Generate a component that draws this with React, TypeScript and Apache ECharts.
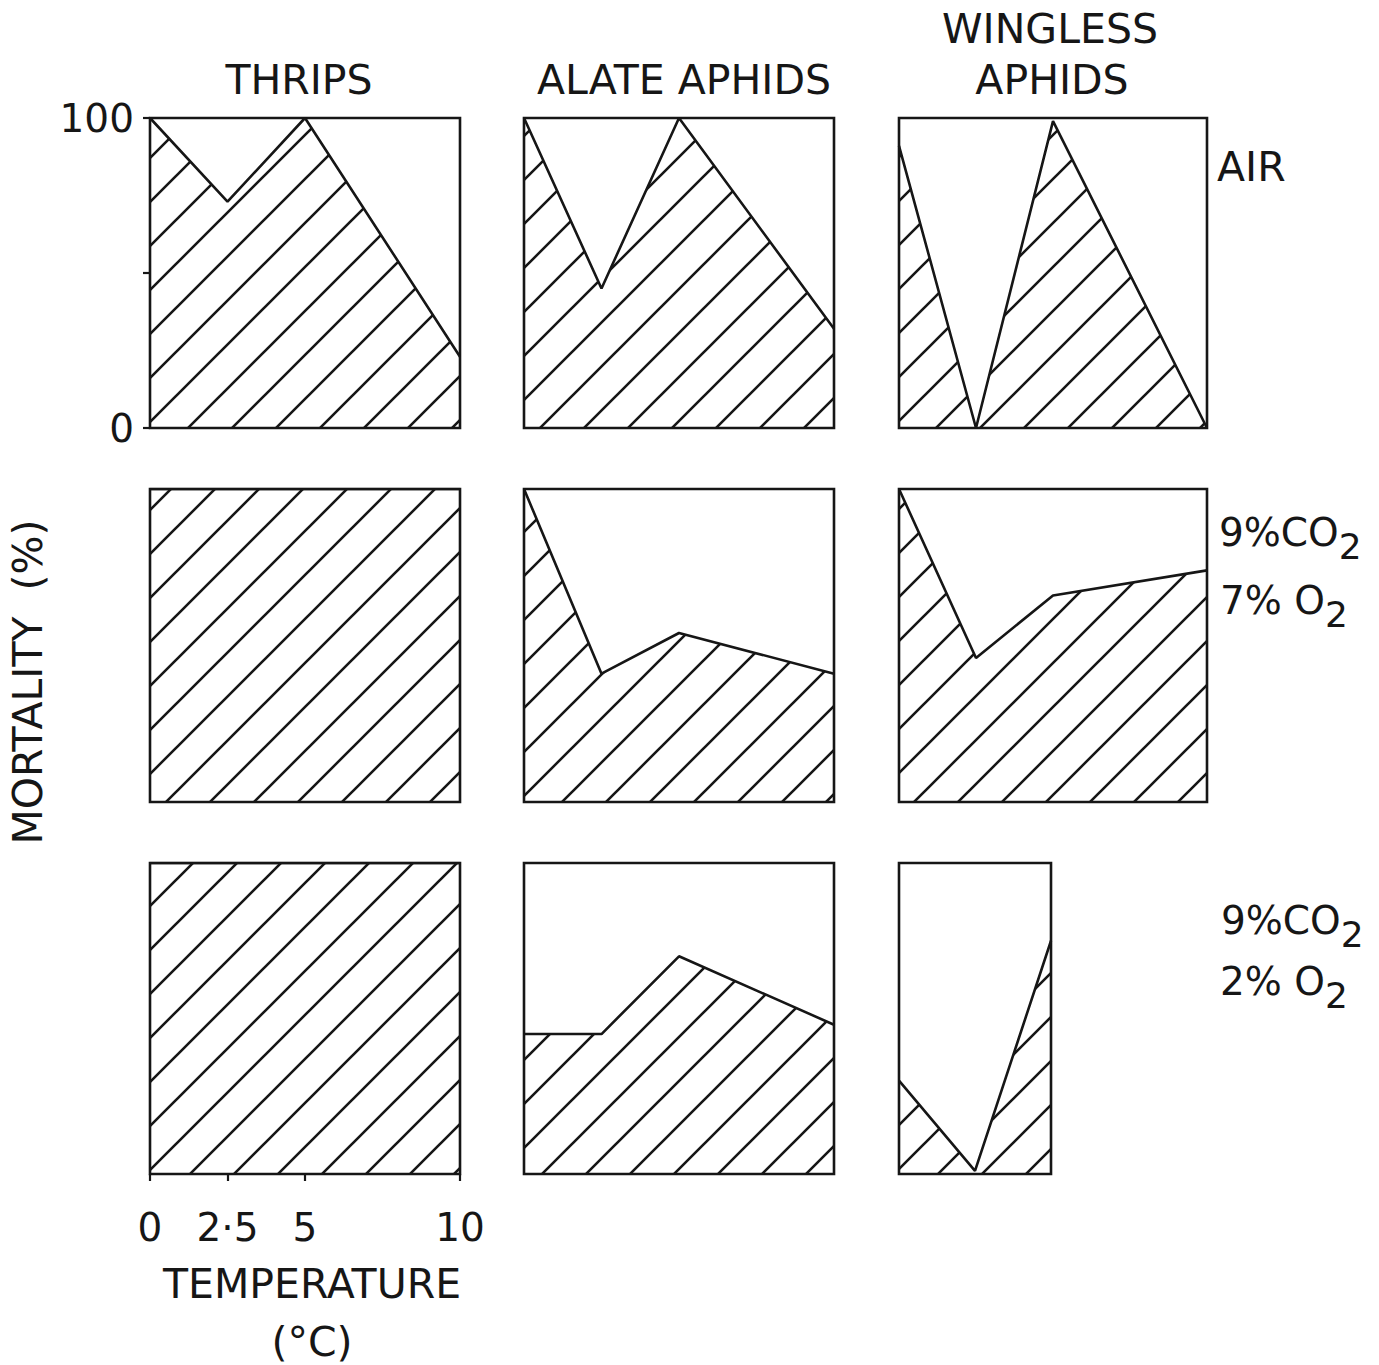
import React, { useEffect, useRef } from 'react';
import * as echarts from 'echarts';

// ---- data (mortality %) ----
const temperatures = [0, 2.5, 5, 10];
const temperaturesShort = [0, 2.5, 5];

const thripsAir = [100, 73, 100, 23];
const alateAir = [100, 45, 100, 32];
const winglessAir = [91, 0, 99, 0];

const thripsCO2O2seven = [100, 100, 100, 100];
const alateCO2O2seven = [100, 41, 54, 41];
const winglessCO2O2seven = [100, 46, 66, 74];

const thripsCO2O2two = [100, 100, 100, 100];
const alateCO2O2two = [45, 45, 70, 48];
const winglessCO2O2two = [30, 1, 75];

const xTickValues = [0, 2.5, 5, 10];
const xTickLabels = ['0', '2·5', '5', '10'];

// ---- layout ----
const FONT = '"DejaVu Sans", sans-serif';
const INK = '#161616';
const LW = 2.6;
const gridLefts = [150, 524, 899];
const gridWidths = [310, 310, 308];
const rowTops = [118, 489, 863];
const rowHeights = [310, 313, 311];

const panels = [
  { row: 0, col: 0, t: temperatures, v: thripsAir, xMax: 10 },
  { row: 0, col: 1, t: temperatures, v: alateAir, xMax: 10 },
  { row: 0, col: 2, t: temperatures, v: winglessAir, xMax: 10 },
  { row: 1, col: 0, t: temperatures, v: thripsCO2O2seven, xMax: 10 },
  { row: 1, col: 1, t: temperatures, v: alateCO2O2seven, xMax: 10 },
  { row: 1, col: 2, t: temperatures, v: winglessCO2O2seven, xMax: 10 },
  { row: 2, col: 0, t: temperatures, v: thripsCO2O2two, xMax: 10 },
  { row: 2, col: 1, t: temperatures, v: alateCO2O2two, xMax: 10 },
  { row: 2, col: 2, t: temperaturesShort, v: winglessCO2O2two, xMax: 5, w: 152 },
];

function makeHatch(size: number, lw: number) {
  const c = document.createElement('canvas');
  c.width = size;
  c.height = size;
  const ctx = c.getContext('2d')!;
  ctx.strokeStyle = INK;
  ctx.lineWidth = lw;
  ctx.lineCap = 'square';
  ctx.beginPath();
  ctx.moveTo(-3, size + 3);
  ctx.lineTo(size + 3, -3);
  ctx.moveTo(-3, 3);
  ctx.lineTo(3, -3);
  ctx.moveTo(size - 3, size + 3);
  ctx.lineTo(size + 3, size - 3);
  ctx.stroke();
  return c;
}

function subLabel(main: string, sub: string, x: number, y: number) {
  return {
    type: 'text',
    x,
    y,
    style: {
      text: `{m|${main}}{s|${sub}}`,
      verticalAlign: 'top',
      align: 'left',
      rich: {
        m: { fontSize: 39, fontFamily: FONT, fill: INK, verticalAlign: 'top' },
        s: { fontSize: 36, fontFamily: FONT, fill: INK, verticalAlign: 'top', padding: [15, 0, 0, 0] },
      },
    },
  };
}

function plainText(text: string, x: number, y: number, extra: any = {}, align = 'center') {
  return {
    type: 'text',
    x,
    y,
    ...extra,
    style: {
      text,
      fontSize: 41,
      fontFamily: FONT,
      fill: INK,
      align,
      verticalAlign: 'middle',
    },
  };
}

export default function App() {
  const ref = useRef<HTMLDivElement>(null);
  useEffect(() => {
    if (!ref.current) return;
    const chart = echarts.init(ref.current, null, { renderer: 'svg' });
    const hatch = makeHatch(44, LW);
    const pattern: any = { image: hatch, repeat: 'repeat', imageWidth: 44, imageHeight: 44 };

    const grids: any[] = [];
    const xAxes: any[] = [];
    const yAxes: any[] = [];
    const series: any[] = [];

    panels.forEach((p, i) => {
      grids.push({
        left: gridLefts[p.col],
        top: rowTops[p.row],
        width: p.w ?? gridWidths[p.col],
        height: rowHeights[p.row],
        show: true,
        borderColor: INK,
        borderWidth: LW,
        backgroundColor: 'transparent',
        containLabel: false,
        outerBoundsMode: 'none',
      });
      const isBottomLeft = p.row === 2 && p.col === 0;
      const isTopLeft = p.row === 0 && p.col === 0;
      xAxes.push({
        type: 'value',
        gridIndex: i,
        min: 0,
        max: p.xMax,
        splitLine: { show: false },
        axisLine: { show: false },
        axisTick: isBottomLeft
          ? { show: true, customValues: xTickValues, length: 7, lineStyle: { color: INK, width: 2.2 } }
          : { show: false },
        axisLabel: isBottomLeft
          ? {
              show: true,
              customValues: xTickValues,
              margin: 34,
              fontSize: 39,
              fontFamily: FONT,
              color: INK,
              formatter: (val: number) => {
                const k = xTickValues.indexOf(val);
                return k >= 0 ? xTickLabels[k] : '';
              },
            }
          : { show: false },
      });
      yAxes.push({
        type: 'value',
        gridIndex: i,
        min: 0,
        max: 100,
        interval: 50,
        splitLine: { show: false },
        axisLine: { show: false },
        axisTick: isTopLeft
          ? { show: true, length: 7, lineStyle: { color: INK, width: 2.2 } }
          : { show: false },
        axisLabel: isTopLeft
          ? {
              show: true,
              margin: 16,
              fontSize: 39,
              fontFamily: FONT,
              color: INK,
              formatter: (val: number) => (val === 50 ? '' : String(val)),
            }
          : { show: false },
      });
      series.push({
        type: 'line',
        xAxisIndex: i,
        yAxisIndex: i,
        data: p.t.map((t, k) => [t, p.v[k]]),
        symbol: 'none',
        silent: true,
        clip: true,
        lineStyle: { color: INK, width: LW },
        areaStyle: { color: pattern, opacity: 1, origin: 'start' },
        z: 3,
      });
    });

    const graphic: any[] = [
      plainText('THRIPS', 299, 80),
      plainText('ALATE APHIDS', 684, 80),
      plainText('WINGLESS', 1050, 29),
      plainText('APHIDS', 1052, 80),
      plainText('AIR', 1217, 167, {}, 'left'),
      subLabel('9%CO', '2', 1219, 513),
      subLabel('7% O', '2', 1220, 581),
      subLabel('9%CO', '2', 1221, 901),
      subLabel('2% O', '2', 1220, 962),
      plainText('MORTALITY  (%)', 28, 682, { rotation: Math.PI / 2 }),
      plainText('TEMPERATURE', 312, 1284),
      plainText('(°C)', 312, 1342),
    ];

    chart.setOption({
      animation: false,
      backgroundColor: '#ffffff',
      grid: grids,
      xAxis: xAxes,
      yAxis: yAxes,
      series,
      graphic,
    });
    return () => chart.dispose();
  }, []);

  return (
    <div
      ref={ref}
      style={{ position: 'absolute', left: 0, top: 0, width: 1379, height: 1365, background: '#fff' }}
    />
  );
}
